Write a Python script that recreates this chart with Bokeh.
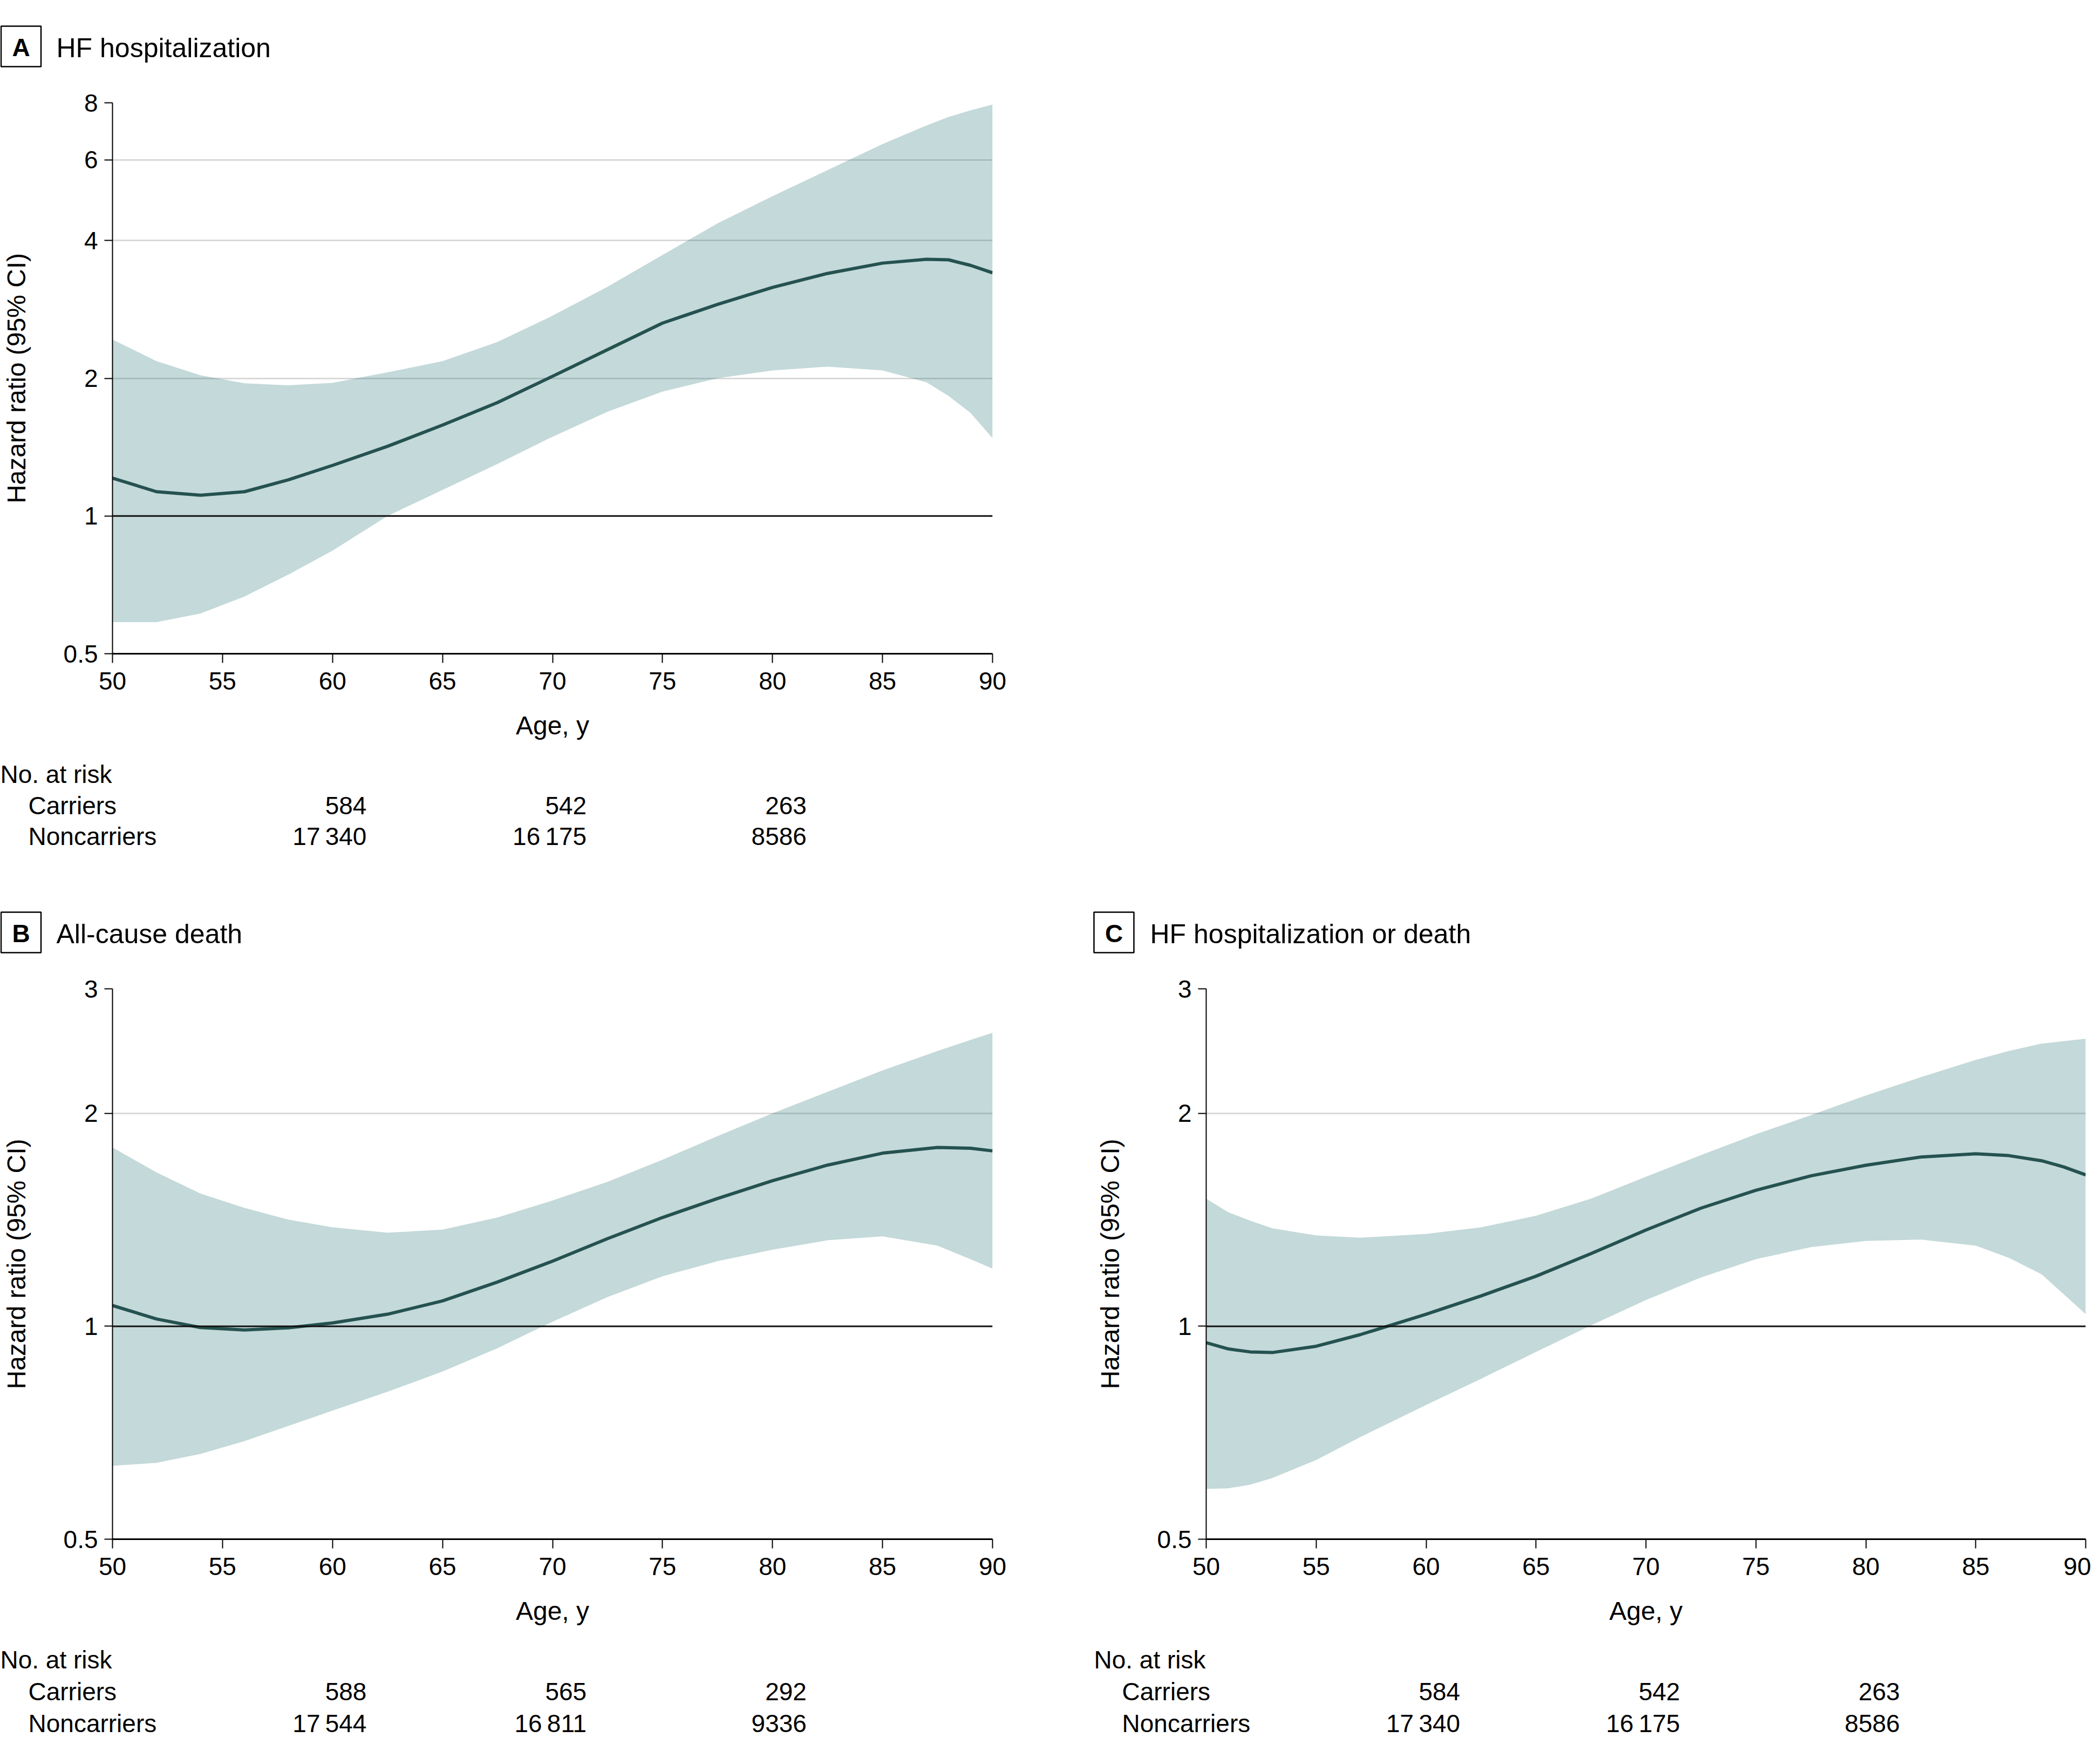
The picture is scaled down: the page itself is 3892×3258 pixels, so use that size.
from bokeh.plotting import figure
from bokeh.models import Range1d, FixedTicker, CustomJSTickFormatter, Span
from bokeh.layouts import column, row
from bokeh.core.properties import value
from bokeh.embed import file_html
from bokeh.resources import INLINE

FONT = "Liberation Sans"

# ---------------- data ----------------
x_ticks = [50, 55, 60, 65, 70, 75, 80, 85, 90]
risk_ages = [60, 70, 80]

# Panel A: HF hospitalization
ages_A = [50, 52, 54, 56, 58, 60, 62.5, 65, 67.5, 70, 72.5, 75, 77.5, 80, 82.5, 85, 87, 88, 89, 90]
hr_A = [1.21, 1.13, 1.11, 1.13, 1.20, 1.29, 1.42, 1.58, 1.77, 2.02, 2.31, 2.64, 2.90, 3.16, 3.39, 3.57, 3.64, 3.63, 3.53, 3.40]
lo_A = [0.586, 0.586, 0.612, 0.667, 0.745, 0.84, 1.0, 1.14, 1.30, 1.49, 1.69, 1.87, 2.0, 2.08, 2.12, 2.08, 1.96, 1.83, 1.68, 1.48]
hi_A = [2.43, 2.18, 2.03, 1.95, 1.93, 1.955, 2.06, 2.18, 2.40, 2.74, 3.17, 3.72, 4.36, 5.0, 5.7, 6.5, 7.14, 7.45, 7.7, 7.93]
yticks_A = [0.5, 1, 2, 4, 6, 8]
grid_A = [2, 4, 6, 8]
carriers_A = [584, 542, 263]
noncarriers_A = [17340, 16175, 8586]

# Panel B: All-cause death
ages_B = [50, 52, 54, 56, 58, 60, 62.5, 65, 67.5, 70, 72.5, 75, 77.5, 80, 82.5, 85, 87.5, 89, 90]
hr_B = [1.07, 1.024, 0.996, 0.988, 0.995, 1.011, 1.04, 1.086, 1.155, 1.236, 1.33, 1.425, 1.516, 1.606, 1.69, 1.757, 1.79, 1.785, 1.77]
lo_B = [0.635, 0.641, 0.66, 0.688, 0.723, 0.76, 0.808, 0.863, 0.931, 1.015, 1.10, 1.177, 1.236, 1.283, 1.323, 1.34, 1.30, 1.244, 1.206]
hi_B = [1.79, 1.65, 1.54, 1.47, 1.415, 1.38, 1.356, 1.37, 1.425, 1.506, 1.60, 1.72, 1.857, 2.0, 2.145, 2.30, 2.45, 2.54, 2.60]
yticks_B = [0.5, 1, 2, 3]
grid_B = [2, 3]
carriers_B = [588, 565, 292]
noncarriers_B = [17544, 16811, 9336]

# Panel C: HF hospitalization or death
ages_C = [50, 51, 52, 53, 55, 57, 60, 62.5, 65, 67.5, 70, 72.5, 75, 77.5, 80, 82.5, 85, 86.5, 88, 89, 90]
hr_C = [0.948, 0.929, 0.92, 0.918, 0.937, 0.973, 1.04, 1.104, 1.177, 1.267, 1.368, 1.469, 1.557, 1.632, 1.689, 1.735, 1.753, 1.743, 1.714, 1.68, 1.637]
lo_C = [0.589, 0.59, 0.597, 0.61, 0.647, 0.697, 0.774, 0.843, 0.92, 1.003, 1.089, 1.172, 1.244, 1.294, 1.32, 1.326, 1.30, 1.25, 1.184, 1.11, 1.04]
hi_C = [1.515, 1.45, 1.41, 1.376, 1.344, 1.334, 1.351, 1.38, 1.433, 1.515, 1.627, 1.746, 1.869, 1.988, 2.12, 2.25, 2.38, 2.45, 2.51, 2.53, 2.55]
yticks_C = [0.5, 1, 2, 3]
grid_C = [2, 3]
carriers_C = [584, 542, 263]
noncarriers_C = [17340, 16175, 8586]

# ---------------- styling ----------------
BAND = "#096160"
BAND_ALPHA = 0.24
LINE = "#255250"
GRID = "#d9d9d9"
TEXT_SHIFT = 16  # svg text baseline correction


def fmt(n):
    s = str(n)
    if n >= 10000:
        s = s[:-3] + "\u2009" + s[-3:]
    return s


def blank(width, height, x_range, y_range):
    p = figure(width=width, height=height, x_range=x_range, y_range=y_range,
               output_backend="svg", toolbar_location=None, title=None,
               x_axis_location=None, y_axis_location=None, min_border=0,
               background_fill_color="white", border_fill_color="white")
    p.min_border_left = p.min_border_right = p.min_border_top = p.min_border_bottom = 0
    p.frame_align = False
    p.outline_line_color = None
    p.xgrid.visible = False
    p.ygrid.visible = False
    return p


def header(letter, title, width, height, box_left, box_top, title_x):
    p = blank(width, height, Range1d(0, width), Range1d(height, 0))
    box_w, box_h = 74, 75
    p.quad(left=[box_left], right=[box_left + box_w], top=[box_top], bottom=[box_top + box_h],
           fill_color="white", line_color="black", line_width=2.5)
    p.text(x=[box_left + box_w / 2], y=[box_top + box_h - 20 - TEXT_SHIFT], text=[letter],
           text_font=value(FONT), text_font_size=value("46px"), text_font_style="bold",
           text_align="center", text_baseline="alphabetic", text_color="black")
    p.text(x=[title_x], y=[box_top + box_h - 19 - TEXT_SHIFT], text=[title],
           text_font=value(FONT), text_font_size=value("50px"),
           text_align="left", text_baseline="alphabetic", text_color="black")
    return p


def risk_table(carriers, noncarriers, width, height, frame_left, frame_w, rows_y):
    k = 40.0 / frame_w
    x0 = 50 - frame_left * k
    x1 = 90 + (width - frame_left - frame_w) * k
    p = blank(width, height, Range1d(x0, x1), Range1d(height, 0))
    ry = [r - TEXT_SHIFT for r in rows_y]
    tf = dict(text_font=value(FONT), text_font_size=value("46px"), text_color="black",
              text_baseline="alphabetic")
    p.text(x=[max(x0, 50 - 208 * k)], y=[ry[0]], text=["No. at risk"], text_align="left", **tf)
    p.text(x=[50 - 156 * k] * 2, y=[ry[1], ry[2]], text=["Carriers", "Noncarriers"],
           text_align="left", **tf)
    xs = [a + 1.55 for a in risk_ages]
    p.text(x=xs, y=[ry[1]] * 3, text=[fmt(c) for c in carriers], text_align="right", **tf)
    p.text(x=xs, y=[ry[2]] * 3, text=[fmt(n) for n in noncarriers], text_align="right", **tf)
    return p


def plot_panel(ages, hr, lo, hi, y_max, yticks, gridticks, frame_w, frame_h,
               mb_left, mb_right, mb_top, mb_bottom):
    p = figure(frame_width=frame_w, frame_height=frame_h,
               x_range=Range1d(50, 90), y_range=Range1d(0.5, y_max),
               y_axis_type="log", output_backend="svg", toolbar_location=None,
               min_border_left=mb_left, min_border_right=mb_right,
               min_border_top=mb_top, min_border_bottom=mb_bottom,
               title=None, background_fill_color="white",
               border_fill_color="white")
    p.frame_align = False
    p.outline_line_color = None

    p.xgrid.visible = False
    p.ygrid.ticker = FixedTicker(ticks=gridticks)
    p.ygrid.grid_line_color = GRID
    p.ygrid.grid_line_width = 3

    xa = p.xaxis[0]
    xa.ticker = FixedTicker(ticks=x_ticks)
    xa.axis_label = "Age, y"
    xa.axis_line_width = 3
    xa.axis_line_color = "black"
    xa.major_tick_line_width = 2
    xa.major_tick_out = 17
    xa.major_tick_in = 0
    xa.minor_tick_line_color = None
    xa.major_label_standoff = 17
    xa.axis_label_standoff = 37

    ya = p.yaxis[0]
    ya.ticker = FixedTicker(ticks=yticks)
    ya.formatter = CustomJSTickFormatter(code="return tick.toString()")
    ya.axis_label = "Hazard ratio (95% CI)"
    ya.axis_line_width = 2
    ya.axis_line_color = "black"
    ya.major_tick_line_width = 2
    ya.major_tick_out = 15
    ya.major_tick_in = 0
    ya.minor_tick_line_color = None
    ya.major_label_standoff = 12
    ya.axis_label_standoff = 58

    for ax in (xa, ya):
        ax.major_label_text_font = FONT
        ax.major_label_text_font_size = "46px"
        ax.major_label_text_color = "black"
        ax.axis_label_text_font = FONT
        ax.axis_label_text_font_size = "48px"
        ax.axis_label_text_font_style = "normal"
        ax.axis_label_text_color = "black"

    p.varea(x=ages, y1=lo, y2=hi, fill_color=BAND, fill_alpha=BAND_ALPHA)
    p.add_layout(Span(location=1, dimension="width", line_color="#111111", line_width=3))
    p.line(x=ages, y=hr, line_color=LINE, line_width=6)
    return p


# ---- Panel A (top-left) ----
hA = header("A", "HF hospitalization", 1950, 158, 1.5, 48, 104)
pA = plot_panel(ages_A, hr_A, lo_A, hi_A, 8, yticks_A, grid_A, 1631, 1021, 208, 111, 32, 195)
rA = risk_table(carriers_A, noncarriers_A, 1950, 194, 208, 1631, [44, 102, 159])

# ---- Panel B (bottom-left) ----
hB = header("B", "All-cause death", 1950, 192, 1.5, 90, 104)
pB = plot_panel(ages_B, hr_B, lo_B, hi_B, 3, yticks_B, grid_B, 1631, 1020, 208, 111, 40, 195)
rB = risk_table(carriers_B, noncarriers_B, 1950, 200, 208, 1631, [44, 103, 162])

# ---- Panel C (bottom-right) ----
hC = header("C", "HF hospitalization or death", 1925, 192, 77, 90, 181)
pC = plot_panel(ages_C, hr_C, lo_C, hi_C, 3, yticks_C, grid_C, 1630, 1020, 285, 10, 40, 195)
rC = risk_table(carriers_C, noncarriers_C, 1925, 200, 285, 1630, [44, 103, 162])

layout = column(hA, pA, rA, row(column(hB, pB, rB), column(hC, pC, rC)))
open("out.html", "w").write(file_html(layout, INLINE))
